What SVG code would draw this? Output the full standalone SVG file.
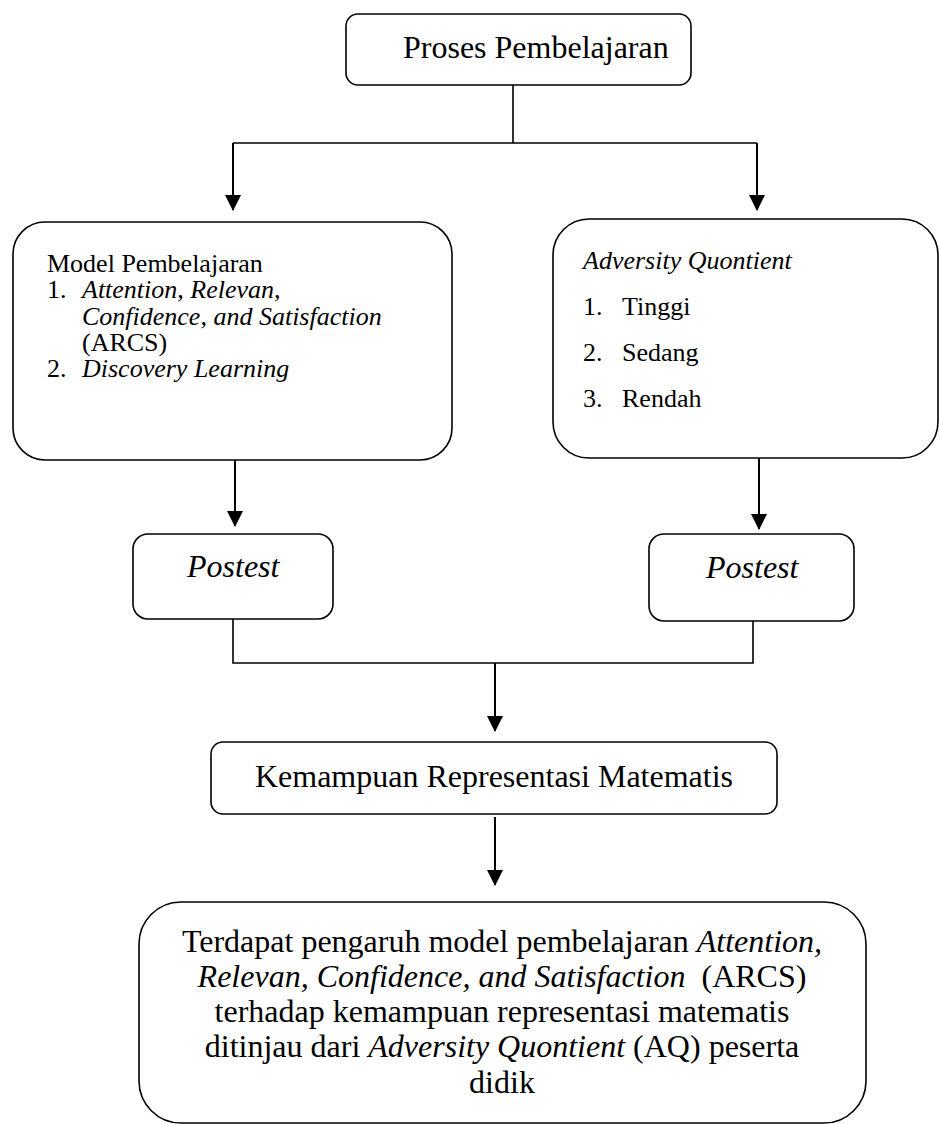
<svg xmlns="http://www.w3.org/2000/svg" width="940" height="1124" viewBox="0 0 940 1124">
<defs>
<style>
.box{fill:#fff;stroke:#000;stroke-width:1.6}
.ln{fill:none;stroke:#000;stroke-width:1.6}
.ar{fill:none;stroke:#000;stroke-width:2}
.t{font-family:"Liberation Serif","Times New Roman",serif;fill:#000}
.big{font-size:32px}
.sm{font-size:26px}
.i{font-style:italic}
</style>
<marker id="ah" markerWidth="8" markerHeight="8" refX="7.5" refY="4" orient="auto" markerUnits="strokeWidth">
<path d="M0,0 L8,4 L0,8 Z" fill="#000"/>
</marker>
</defs>
<rect width="940" height="1124" fill="#fff"/>
<g id="connectors">
<path class="ln" d="M513,85 V143 M233,143 H757"/>
<path class="ar" d="M233,143 V210" marker-end="url(#ah)"/>
<path class="ar" d="M757,143 V210" marker-end="url(#ah)"/>
<path class="ar" d="M235,460 V526" marker-end="url(#ah)"/>
<path class="ar" d="M759,458 V529" marker-end="url(#ah)"/>
<path class="ln" d="M233,619 V663 H753 V621"/>
<path class="ar" d="M495,663 V731" marker-end="url(#ah)"/>
<path class="ar" d="M495,817 V885" marker-end="url(#ah)"/>
</g>
<g id="proses">
<rect class="box" x="346" y="14" width="345" height="71" rx="12"/>
<text class="t big" x="403" y="58">Proses Pembelajaran</text>
</g>
<g id="model">
<rect class="box" x="13" y="222" width="439" height="238" rx="32"/>
<text class="t sm" x="47" y="272">Model Pembelajaran</text>
<text class="t sm" x="47" y="298">1.</text>
<text class="t sm i" x="82" y="298">Attention, Relevan,</text>
<text class="t sm i" x="82" y="325">Confidence, and Satisfaction</text>
<text class="t sm" x="82" y="351">(ARCS)</text>
<text class="t sm" x="47" y="377">2.</text>
<text class="t sm i" x="82" y="377">Discovery Learning</text>
</g>
<g id="aq">
<rect class="box" x="553" y="219" width="385" height="239" rx="36"/>
<text class="t sm i" x="583" y="269">Adversity Quontient</text>
<text class="t sm" x="583" y="315">1.</text>
<text class="t sm" x="622" y="315">Tinggi</text>
<text class="t sm" x="583" y="361">2.</text>
<text class="t sm" x="622" y="361">Sedang</text>
<text class="t sm" x="583" y="407">3.</text>
<text class="t sm" x="622" y="407">Rendah</text>
</g>
<g id="postest1">
<rect class="box" x="133" y="534" width="200" height="85" rx="15"/>
<text class="t big i" x="187" y="577">Postest</text>
</g>
<g id="postest2">
<rect class="box" x="649" y="534" width="205" height="87" rx="15"/>
<text class="t big i" x="706" y="578">Postest</text>
</g>
<g id="kemampuan">
<rect class="box" x="211" y="742" width="566" height="72" rx="12"/>
<text class="t big" x="494" y="787" text-anchor="middle">Kemampuan Representasi Matematis</text>
</g>
<g id="kesimpulan">
<rect class="box" x="139" y="902" width="727" height="221" rx="42"/>
<text class="t big" x="502" y="952" text-anchor="middle">Terdapat pengaruh model pembelajaran <tspan class="i">Attention,</tspan></text>
<text class="t big" x="502" y="987" text-anchor="middle" xml:space="preserve"><tspan class="i">Relevan, Confidence, and Satisfaction</tspan>  (ARCS)</text>
<text class="t big" x="502" y="1022" text-anchor="middle">terhadap kemampuan representasi matematis</text>
<text class="t big" x="502" y="1057" text-anchor="middle">ditinjau dari <tspan class="i">Adversity Quontient</tspan> (AQ) peserta</text>
<text class="t big" x="502" y="1093" text-anchor="middle">didik</text>
</g>
</svg>
